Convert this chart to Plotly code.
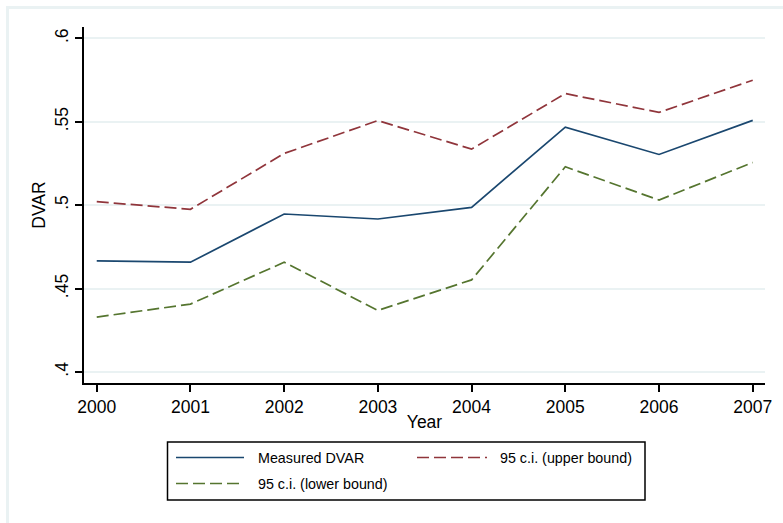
import plotly.graph_objects as go

# Yearly DVAR estimates with 95% confidence bounds
years = [2000, 2001, 2002, 2003, 2004, 2005, 2006, 2007]
measured_dvar = [0.4666, 0.4658, 0.4947, 0.4917, 0.4987, 0.5468, 0.5304, 0.5508]
upper_bound = [0.5021, 0.4975, 0.5310, 0.5507, 0.5336, 0.5669, 0.5556, 0.5749]
lower_bound = [0.4329, 0.4407, 0.4658, 0.4369, 0.4552, 0.5230, 0.5031, 0.5256]

y_ticks = [0.4, 0.45, 0.5, 0.55, 0.6]
y_tick_labels = [".4", ".45", ".5", ".55", ".6"]

series_names = ["Measured DVAR", "95 c.i. (upper bound)", "95 c.i. (lower bound)"]
series_colors = ["#1a476f", "#90353b", "#55752f"]
series_dash = ["solid", "12px,5px", "12px,5px"]
series_values = [measured_dvar, upper_bound, lower_bound]

FONT = "Liberation Sans, Arial, Helvetica, sans-serif"
W, H = 783, 523
ML, MR, MT, MB = 84, 18, 27, 140
PW, PH = W - ML - MR, H - MT - MB

fig = go.Figure()
for name, vals, col, dash in zip(series_names, series_values, series_colors, series_dash):
    fig.add_trace(go.Scatter(
        x=years, y=vals, mode="lines", name=name,
        line=dict(color=col, width=1.7, dash=dash),
        showlegend=False,
    ))


def px_to_paper(px, py):
    return (px - ML) / PW, (H - MB - py) / PH


shapes = []
annotations = []

# Outer graph-region frame
x0, y0 = px_to_paper(7.5, 7.5)
x1, y1 = px_to_paper(W + 10, H + 10)
shapes.append(dict(type="rect", xref="paper", yref="paper", x0=x0, y0=y1, x1=x1, y1=y0,
                   line=dict(color="#eaf2f3", width=3), fillcolor="rgba(0,0,0,0)", layer="below"))

# Legend box
lx0, ly0 = px_to_paper(167.5, 442)
lx1, ly1 = px_to_paper(645, 500)
shapes.append(dict(type="rect", xref="paper", yref="paper", x0=lx0, y0=ly1, x1=lx1, y1=ly0,
                   line=dict(color="black", width=1.5), fillcolor="white"))

legend_slots = [(176, 244, 256, 457.5), (417, 487, 498, 457.5), (176, 244, 256, 483.5)]
for (sx0, sx1, tx, ty), name, col, dash in zip(legend_slots, series_names, series_colors, series_dash):
    a0, b0 = px_to_paper(sx0, ty)
    a1, _ = px_to_paper(sx1, ty)
    shapes.append(dict(type="line", xref="paper", yref="paper", x0=a0, y0=b0, x1=a1, y1=b0,
                       line=dict(color=col, width=1.7, dash=dash)))
    t0, _ = px_to_paper(tx, ty)
    annotations.append(dict(xref="paper", yref="paper", x=t0, y=b0, text=name, showarrow=False,
                            xanchor="left", yanchor="middle",
                            font=dict(family=FONT, size=14.3, color="black")))

fig.update_layout(
    width=W, height=H, autosize=False,
    margin=dict(l=ML, r=MR, t=MT, b=MB, pad=0),
    paper_bgcolor="white", plot_bgcolor="white",
    font=dict(family=FONT, size=17.5, color="black"),
    shapes=shapes, annotations=annotations,
    xaxis=dict(
        range=[1999.864, 2007.131], tickvals=years, ticktext=[str(y) for y in years],
        showgrid=False, zeroline=False, showline=True, linecolor="black", linewidth=1.5,
        ticks="outside", ticklen=7, tickwidth=1.5, tickcolor="black",
        tickfont=dict(family=FONT, size=17.5),
        title=dict(text="Year", font=dict(family=FONT, size=17.5), standoff=0),
    ),
    yaxis=dict(
        range=[0.3934, 0.6068], tickvals=y_ticks, ticktext=y_tick_labels, tickangle=-90,
        showgrid=True, gridcolor="#eaf2f3", gridwidth=1.5, zeroline=False,
        showline=True, linecolor="black", linewidth=1.5,
        ticks="outside", ticklen=7, tickwidth=1.5, tickcolor="black",
        tickfont=dict(family=FONT, size=17.5),
        title=dict(text="DVAR", font=dict(family=FONT, size=17.5), standoff=2),
    ),
)

fig.write_html("out.html")
